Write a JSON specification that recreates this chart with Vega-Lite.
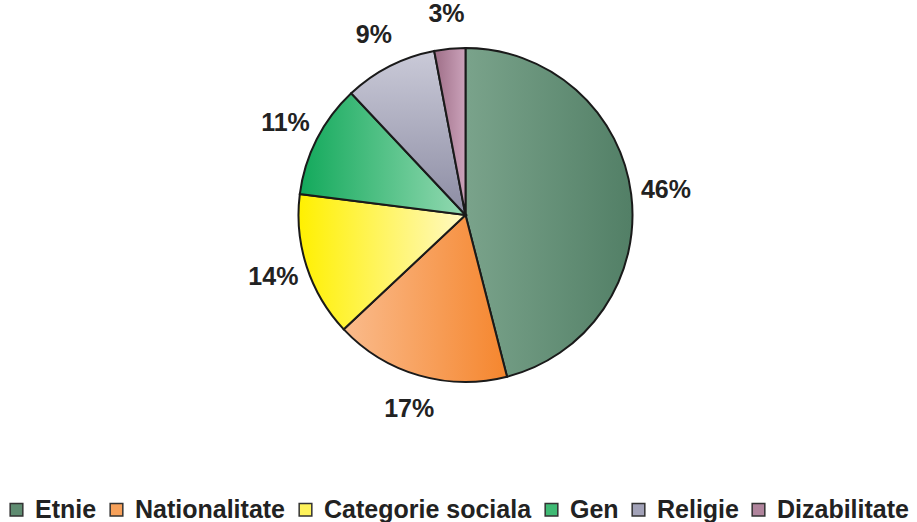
{
  "$schema": "https://vega.github.io/schema/vega-lite/v6.json",
  "autosize": {"type": "none"},
  "width": 903,
  "height": 430,
  "padding": {"left": 14, "top": 0, "right": 0, "bottom": 92},
  "background": "white",
  "config": {"view": {"stroke": null}, "font": "Liberation Sans"},
  "data": {"values": [
    {"cat": "Etnie", "val": 46, "ord": 1, "label": "46%"},
    {"cat": "Nationalitate", "val": 17, "ord": 2, "label": "17%"},
    {"cat": "Categorie sociala", "val": 14, "ord": 3, "label": "14%"},
    {"cat": "Gen", "val": 11, "ord": 4, "label": "11%"},
    {"cat": "Religie", "val": 9, "ord": 5, "label": "9%"},
    {"cat": "Dizabilitate", "val": 3, "ord": 6, "label": "3%"}
  ]},
  "transform": [
    {"stack": "val", "groupby": [], "sort": [{"field": "ord", "order": "ascending"}], "as": ["v0", "v1"]}
  ],
  "encoding": {
    "theta": {"field": "v0", "type": "quantitative", "scale": {"domain": [0, 100]}},
    "theta2": {"field": "v1"}
  },
  "layer": [
    {
      "mark": {"type": "arc", "outerRadius": 167},
      "encoding": {
        "color": {
          "field": "cat", "type": "nominal",
          "scale": {
            "domain": ["Etnie", "Nationalitate", "Categorie sociala", "Gen", "Religie", "Dizabilitate"],
            "range": ["#5f8c71", "#f7a15a", "#fff35a", "#3fba74", "#a2a2b8", "#b0849c"]
          },
          "legend": {
            "orient": "none", "direction": "horizontal", "legendX": -10, "legendY": 497,
            "title": null, "symbolType": "square", "symbolSize": 160,
            "symbolStrokeColor": "#333", "symbolStrokeWidth": 1.5,
            "symbolOpacity": 1,
            "labelFont": "Liberation Sans", "labelFontSize": 25, "labelFontWeight": "bold",
            "labelColor": "#222", "labelOffset": 6, "columnPadding": 7, "labelLimit": 400
          }
        }
      }
    },
    {
      "transform": [{"filter": "datum.cat === 'Etnie'"}],
      "mark": {"type": "arc", "outerRadius": 167, "stroke": "#1a1a1a", "strokeWidth": 2,
        "fill": {"gradient": "linear", "x1": 0, "y1": 0, "x2": 1, "y2": 0, "stops": [{"offset": 0, "color": "#7aa38b"}, {"offset": 1, "color": "#527f66"}]}}
    },
    {
      "transform": [{"filter": "datum.cat === 'Nationalitate'"}],
      "mark": {"type": "arc", "outerRadius": 167, "stroke": "#1a1a1a", "strokeWidth": 2,
        "fill": {"gradient": "linear", "x1": 0, "y1": 0, "x2": 1, "y2": 0, "stops": [{"offset": 0, "color": "#fabb8c"}, {"offset": 1, "color": "#f5862e"}]}}
    },
    {
      "transform": [{"filter": "datum.cat === 'Categorie sociala'"}],
      "mark": {"type": "arc", "outerRadius": 167, "stroke": "#1a1a1a", "strokeWidth": 2,
        "fill": {"gradient": "linear", "x1": 0, "y1": 0, "x2": 1, "y2": 0, "stops": [{"offset": 0, "color": "#fff000"}, {"offset": 1, "color": "#fff9c4"}]}}
    },
    {
      "transform": [{"filter": "datum.cat === 'Gen'"}],
      "mark": {"type": "arc", "outerRadius": 167, "stroke": "#1a1a1a", "strokeWidth": 2,
        "fill": {"gradient": "linear", "x1": 0, "y1": 0, "x2": 1, "y2": 0, "stops": [{"offset": 0, "color": "#12a95b"}, {"offset": 1, "color": "#94d9b2"}]}}
    },
    {
      "transform": [{"filter": "datum.cat === 'Religie'"}],
      "mark": {"type": "arc", "outerRadius": 167, "stroke": "#1a1a1a", "strokeWidth": 2,
        "fill": {"gradient": "linear", "x1": 0, "y1": 0, "x2": 0, "y2": 1, "stops": [{"offset": 0, "color": "#cacad8"}, {"offset": 1, "color": "#8c8ca3"}]}}
    },
    {
      "transform": [{"filter": "datum.cat === 'Dizabilitate'"}],
      "mark": {"type": "arc", "outerRadius": 167, "stroke": "#1a1a1a", "strokeWidth": 2,
        "fill": {"gradient": "linear", "x1": 0, "y1": 0, "x2": 1, "y2": 0, "stops": [{"offset": 0, "color": "#9e6e87"}, {"offset": 1, "color": "#cba2ba"}]}}
    },
    {
      "mark": {"type": "text", "radius": 202, "fontSize": 25, "fontWeight": "bold", "font": "Liberation Sans", "color": "#222"},
      "encoding": {
        "theta": {"field": "val", "type": "quantitative", "stack": true},
        "theta2": null,
        "order": {"field": "ord", "type": "quantitative"},
        "text": {"field": "label", "type": "nominal"}
      }
    }
  ]
}
